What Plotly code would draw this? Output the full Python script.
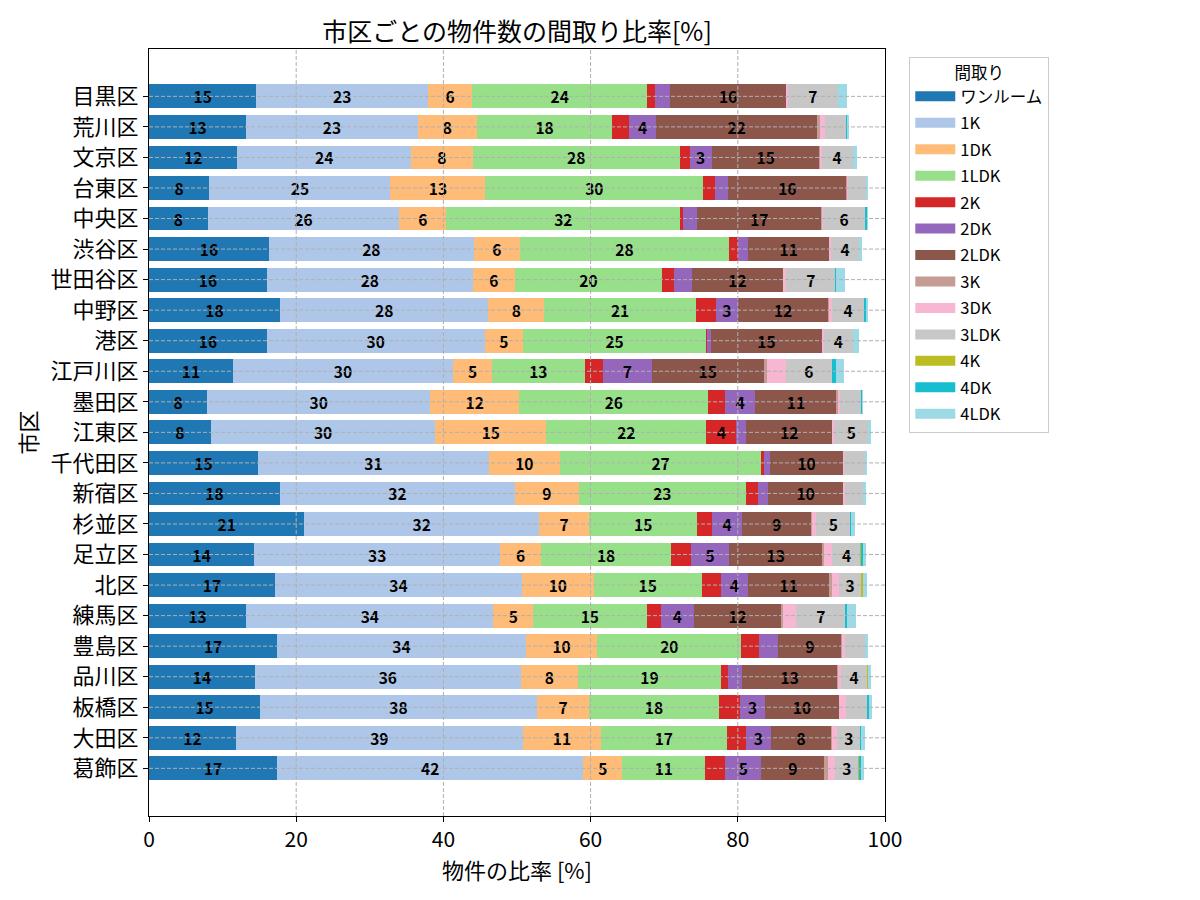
import plotly.graph_objects as go

wards = ["目黒区", "荒川区", "文京区", "台東区", "中央区", "渋谷区", "世田谷区", "中野区",
         "港区", "江戸川区", "墨田区", "江東区", "千代田区", "新宿区", "杉並区", "足立区",
         "北区", "練馬区", "豊島区", "品川区", "板橋区", "大田区", "葛飾区"]

layouts = ["ワンルーム", "1K", "1DK", "1LDK", "2K", "2DK", "2LDK", "3K", "3DK", "3LDK", "4K", "4DK", "4LDK"]

one_room = [14.6, 13.2, 12.0, 8.2, 8.0, 16.3, 16.0, 17.8, 16.0, 11.4, 7.9, 8.4, 14.8, 17.8, 21.1, 14.3, 17.1, 13.2, 17.4, 14.4, 15.1, 11.8, 17.4]
k1 = [23.3, 23.3, 23.6, 24.6, 26.0, 27.8, 28.0, 28.3, 29.6, 29.9, 30.3, 30.5, 31.4, 31.9, 31.9, 33.4, 33.6, 33.6, 33.8, 36.1, 37.6, 39.0, 41.6]
dk1 = [6.0, 8.1, 8.4, 12.9, 6.4, 6.3, 5.7, 7.6, 5.2, 5.3, 12.1, 15.1, 9.6, 8.7, 6.8, 5.55, 9.7, 5.4, 9.7, 7.8, 7.1, 10.6, 5.3]
ldk1 = [23.8, 18.3, 28.1, 29.6, 31.8, 28.4, 20.0, 20.6, 24.9, 12.6, 25.7, 21.7, 27.4, 22.7, 14.7, 17.7, 14.7, 15.4, 19.6, 19.4, 17.6, 17.1, 11.3]
k2 = [1.1, 2.3, 1.35, 1.6, 0.36, 1.27, 1.6, 2.7, 0.15, 2.45, 2.3, 4.1, 0.4, 1.6, 2.0, 2.7, 2.6, 2.0, 2.4, 0.95, 2.9, 2.6, 2.7]
dk2 = [2.0, 3.7, 3.0, 1.8, 1.86, 1.3, 2.45, 3.0, 0.5, 6.66, 4.1, 1.35, 0.8, 1.36, 4.1, 5.2, 3.67, 4.4, 2.6, 1.9, 3.4, 3.4, 4.9]
ldk2 = [15.75, 21.9, 14.7, 16.05, 17.0, 11.1, 12.4, 12.3, 15.1, 15.2, 11.0, 11.7, 9.9, 10.3, 9.4, 12.6, 11.1, 11.95, 8.6, 13.0, 10.05, 8.2, 8.55]
k3 = [0.1, 0.35, 0.05, 0.1, 0.05, 0.05, 0.05, 0.05, 0.05, 0.4, 0.15, 0.05, 0.05, 0.05, 0.13, 0.27, 0.27, 0.13, 0.05, 0.05, 0.05, 0.13, 0.55]
dk3 = [0.15, 0.68, 0.2, 0.1, 0.05, 0.1, 0.35, 0.5, 0.15, 2.6, 0.3, 0.2, 0.1, 0.13, 0.55, 1.1, 0.95, 1.8, 0.4, 0.4, 0.95, 0.7, 0.95]
ldk3 = [6.8, 2.9, 4.2, 2.55, 5.84, 3.9, 6.75, 4.3, 4.05, 6.25, 2.9, 4.65, 2.85, 2.6, 4.6, 3.9, 3.1, 6.8, 2.7, 3.6, 2.9, 3.1, 3.1]
k4 = [0, 0, 0, 0, 0, 0, 0, 0, 0, 0, 0, 0, 0, 0, 0, 0.13, 0.18, 0, 0, 0.13, 0, 0, 0.13]
dk4 = [0, 0.2, 0, 0, 0.2, 0, 0.1, 0.3, 0, 0.54, 0.13, 0, 0, 0, 0.13, 0.13, 0, 0.13, 0, 0, 0.13, 0.13, 0.27]
ldk4 = [1.3, 0.2, 0.55, 0.1, 0.1, 0.3, 1.2, 0.3, 0.7, 1.1, 0.05, 0.4, 0.27, 0.27, 0.55, 0.4, 0.6, 1.2, 0.4, 0.4, 0.4, 0.55, 0.4]

series = [one_room, k1, dk1, ldk1, k2, dk2, ldk2, k3, dk3, ldk3, k4, dk4, ldk4]
colors = ["#1f77b4", "#aec7e8", "#ffbb78", "#98df8a", "#d62728", "#9467bd", "#8c564b",
          "#c49c94", "#f7b6d2", "#c7c7c7", "#bcbd22", "#17becf", "#9edae5"]

x_ticks = [0, 20, 40, 60, 80, 100]

FONT = "Noto Sans CJK JP"
W, H = 1192, 892  # page body has an 8px margin

fig = go.Figure()
for name, vals, col in zip(layouts, series, colors):
    fig.add_trace(go.Bar(
        y=wards, x=vals, name=name, orientation="h",
        marker=dict(color=col, line=dict(width=0)),
        text=[f"{v:.0f}" if v >= 3 else "" for v in vals],
        textposition="inside", insidetextanchor="middle", textangle=0,
        constraintext="none",
        textfont=dict(family=FONT, size=15.5, color="black", weight="bold"),
        hoverinfo="x+y+name",
        showlegend=False, legendgroup=name,
    ))
    # legend swatch (wide rectangle like the reference)
    fig.add_trace(go.Scatter(
        x=[None], y=[None], mode="lines", name=name, legendgroup=name,
        line=dict(color=col, width=12), showlegend=True, hoverinfo="skip",
    ))

shapes = []
for t in x_ticks[1:-1]:
    shapes.append(dict(type="line", xref="x", yref="paper", x0=t, x1=t, y0=0, y1=1,
                       line=dict(color="#b0b0b0", width=1, dash="4px,2px"), layer="above"))
for i, _ in enumerate(wards):
    shapes.append(dict(type="line", xref="paper", yref="y", x0=0, x1=1, y0=i, y1=i,
                       line=dict(color="#b0b0b0", width=1, dash="4px,2px"), layer="above"))

fig.update_layout(
    width=W, height=H,
    barmode="stack", bargap=0.22,
    paper_bgcolor="white", plot_bgcolor="white",
    font=dict(family=FONT, color="black"),
    margin=dict(l=141, r=315, t=41, b=84, autoexpand=False),
    title=dict(text="市区ごとの物件数の間取り比率[%]", x=0.5, xref="paper",
               y=1 - 24 / H, yref="container", yanchor="middle", xanchor="center",
               font=dict(family=FONT, size=25, color="black")),
    xaxis=dict(range=[0, 100], tickvals=x_ticks, ticks="outside", ticklen=5, tickcolor="black",
               showline=True, linecolor="black", linewidth=1, mirror=True,
               showgrid=False, zeroline=False,
               tickfont=dict(family=FONT, size=21),
               title=dict(text="物件の比率 [%]", font=dict(family=FONT, size=22), standoff=4)),
    yaxis=dict(categoryorder="array", categoryarray=wards, range=[len(wards) - 1 + 1.56, -1.55],
               ticks="outside", ticklen=5, tickcolor="black",
               showline=True, linecolor="black", linewidth=1, mirror=True,
               showgrid=False, zeroline=False,
               tickfont=dict(family=FONT, size=22),
               title=dict(text="市区", font=dict(family=FONT, size=22), standoff=6)),
    legend=dict(x=1.033, xanchor="left", y=0.99, yanchor="top",
                bgcolor="white", bordercolor="#cccccc", borderwidth=1,
                font=dict(family=FONT, size=16.5),
                title=dict(text="間取り", side="top center", font=dict(family=FONT, size=16.5)),
                traceorder="grouped", tracegroupgap=2, itemwidth=40),
    uniformtext=dict(mode="show", minsize=15),
    shapes=shapes,
)

fig.write_html("out.html")
